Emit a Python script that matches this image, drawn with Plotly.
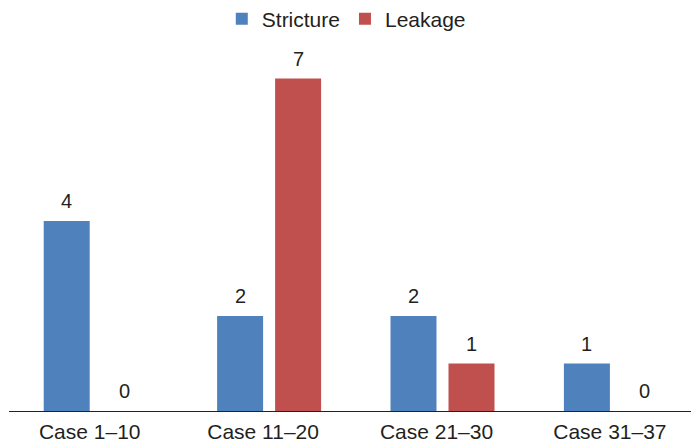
import plotly.graph_objects as go

categories = ["Case 1–10", "Case 11–20", "Case 21–30", "Case 31–37"]
stricture = [4, 2, 2, 1]
leakage = [0, 7, 1, 0]
series_names = ["Stricture", "Leakage"]
series_colors = ["#4F81BD", "#C0504D"]

FONT = "Liberation Sans, Arial, sans-serif"
TXT = "#231F20"

BARGAP = 0.331
BARGROUPGAP = 0.207
slot = (1 - BARGAP) / 2

fig = go.Figure()
for name, vals, col in zip(series_names, [stricture, leakage], series_colors):
    fig.add_trace(go.Bar(name=name, x=categories, y=vals, marker_color=col,
                         marker_line_width=0))

annotations = []
for si, vals in enumerate([stricture, leakage]):
    off = (si - 0.5) * slot
    for ci, v in enumerate(vals):
        annotations.append(dict(x=ci + off, y=v, xref="x", yref="y", text=str(v),
                                showarrow=False, yanchor="bottom", yshift=7,
                                font=dict(family=FONT, size=20, color=TXT)))

fig.update_layout(
    width=691, height=444,
    margin=dict(l=9, r=0, t=31, b=33, autoexpand=False),
    paper_bgcolor="white", plot_bgcolor="white",
    barmode="group", bargap=BARGAP, bargroupgap=BARGROUPGAP,
    showlegend=True,
    legend=dict(orientation="h", x=0.312, xanchor="left", y=1.0316, yanchor="middle",
                font=dict(family=FONT, size=21, color=TXT), bgcolor="rgba(0,0,0,0)"),
    annotations=annotations,
    font=dict(family=FONT, color=TXT),
)
fig.update_xaxes(type="category", range=[-0.5, -0.5 + 682 / 173.4],
                 showline=True, linecolor="#222", linewidth=1, ticks="",
                 showgrid=False, zeroline=False,
                 tickfont=dict(family=FONT, size=21, color=TXT),
                 ticklabelshift=-6, ticklabelstandoff=2, automargin=False)
fig.update_yaxes(range=[0, 8], showticklabels=False, showgrid=False,
                 zeroline=False, showline=False, automargin=False)

fig.write_html("out.html", config={"displayModeBar": False},
               post_script="document.body.style.margin='0';document.body.style.overflow='hidden';")
